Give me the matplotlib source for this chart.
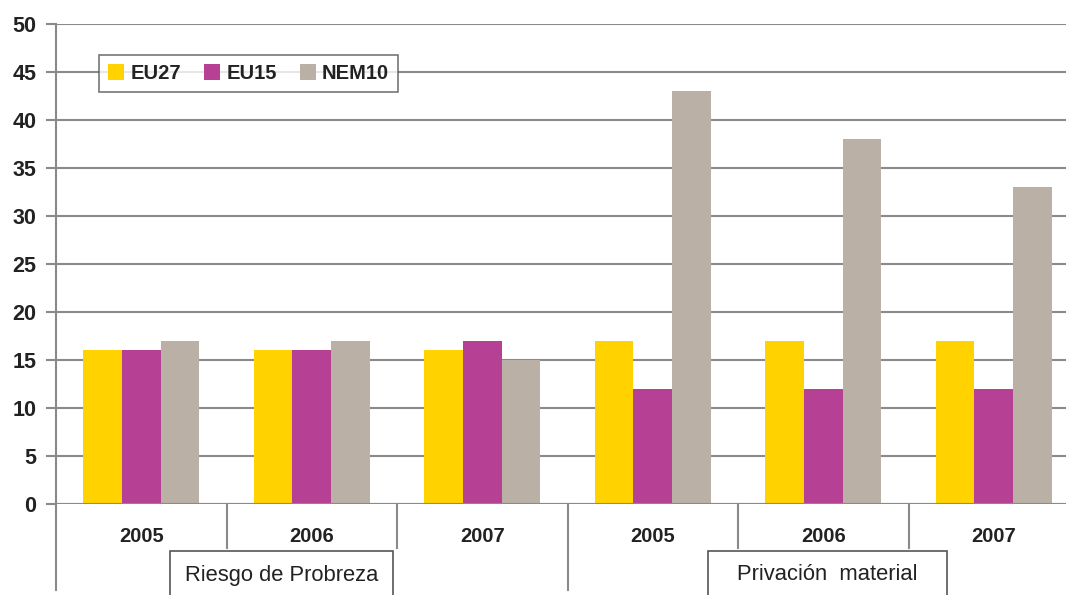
import matplotlib.pyplot as plt
import matplotlib.transforms as mtransforms
from matplotlib.patches import Patch, Rectangle
import numpy as np

plt.rcParams['font.family'] = ['Liberation Sans', 'DejaVu Sans']

years = ['2005', '2006', '2007', '2005', '2006', '2007']
groups = ['Riesgo de Probreza', 'Privación  material']
series = ['EU27', 'EU15', 'NEM10']
eu27 = [16, 16, 16, 17, 17, 17]
eu15 = [16, 16, 17, 12, 12, 12]
nem10 = [17, 17, 15, 43, 38, 33]
colors = ['#FFD200', '#B64094', '#BAB0A5']

W, H = 1066, 595
fig = plt.figure(figsize=(W / 100, H / 100), dpi=100)
ax = fig.add_axes([56 / W, (H - 504) / H, 1 - 56 / W, 480 / H])

x = np.arange(len(years))
width = 0.227
for i, (vals, c, name) in enumerate(zip([eu27, eu15, nem10], colors, series)):
    ax.bar(x + (i - 1) * width, vals, width, color=c, label=name, zorder=3)

ax.set_xlim(-0.5, 5.5 - 13 / 170.5)
ax.set_ylim(0, 50)
ax.set_yticks(range(0, 51, 5))
ax.yaxis.grid(True, color='#8a8a8a', linewidth=1.5, zorder=0)
ax.set_axisbelow(True)
for s in ['top', 'right', 'bottom']:
    ax.spines[s].set_visible(False)
ax.spines['left'].set_color('#8a8a8a')
ax.spines['left'].set_linewidth(1.5)
ax.spines['left'].set_bounds(0, 50)
ax.tick_params(axis='y', length=7, width=1.5, color='#8a8a8a', pad=7,
               labelsize=15.5)
for lbl in ax.get_yticklabels():
    lbl.set_fontweight('bold')
    lbl.set_color('#222222')
ax.set_xticks([])
ax.axhline(0, color='#8a8a8a', linewidth=1.5, zorder=4)

trans = mtransforms.blended_transform_factory(ax.transData, ax.transAxes)
px = 1 / 480  # one pixel in axes y units
for xi, y in zip(x, years):
    ax.text(xi, -32 * px, y, transform=trans, ha='center', va='center',
            fontsize=14.5, fontweight='bold', color='#222222')

# separators under the axis
ax.plot([-0.5, -0.5], [0, -86 * px], transform=trans, color='#8a8a8a',
        linewidth=1.5, clip_on=False)
for b in [0.5, 1.5, 2.5, 3.5, 4.5]:
    depth = 86 if b == 2.5 else 44
    ax.plot([b, b], [0, -depth * px], transform=trans, color='#8a8a8a',
            linewidth=1.5, clip_on=False)

# group label boxes
for (x0, x1), g in zip([(170, 393), (708, 947)], groups):
    fig.patches.append(Rectangle((x0 / W, -0.01), (x1 - x0) / W,
                                 (H - 551) / H + 0.01,
                                 transform=fig.transFigure, facecolor='white',
                                 edgecolor='#555555', linewidth=1.2))
    fig.text((x0 + x1) / 2 / W, (H - 575) / H, g, ha='center', va='center',
             fontsize=15.8, color='#222222')

handles = [Patch(facecolor=c, edgecolor='none') for c in colors]
leg = ax.legend(handles, series, loc='upper left', ncol=3,
                bbox_to_anchor=(99 / W, 1 - 55 / H),
                bbox_transform=fig.transFigure, borderaxespad=0,
                frameon=True, fancybox=False,
                handlelength=0.8, handleheight=0.8, handletextpad=0.3,
                columnspacing=1.15, borderpad=0.45,
                prop={'weight': 'bold', 'size': 14.5})
leg.get_frame().set_edgecolor('#555555')
leg.get_frame().set_linewidth(1.2)
leg.set_zorder(5)
for t in leg.get_texts():
    t.set_color('#222222')

fig.savefig('out.png', dpi=100)
